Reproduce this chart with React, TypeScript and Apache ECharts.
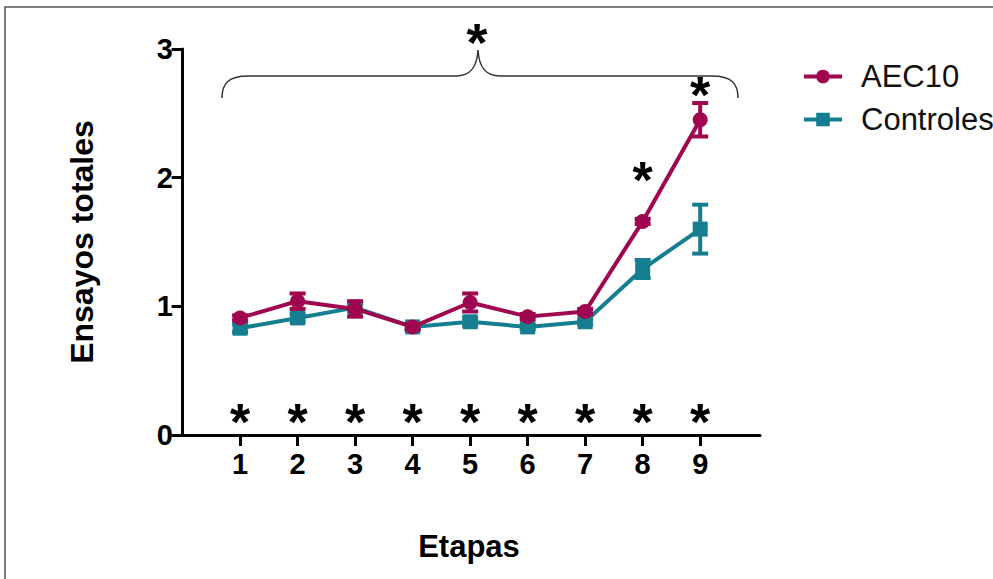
import React, { useEffect, useRef } from "react";
import * as echarts from "echarts";

const etapas = [1, 2, 3, 4, 5, 6, 7, 8, 9];
const aec10 = [0.91, 1.04, 0.98, 0.84, 1.03, 0.92, 0.96, 1.66, 2.45];
const aec10Err = [0.02, 0.06, 0.06, 0.02, 0.07, 0.02, 0.02, 0.02, 0.13];
const controles = [0.83, 0.91, 0.99, 0.84, 0.88, 0.84, 0.88, 1.29, 1.6];
const controlesErr = [0.03, 0.03, 0.03, 0.02, 0.03, 0.02, 0.02, 0.07, 0.19];
const yTicks = [0, 1, 2, 3];
const starLevel = 0.15;
const pointStars = [
  [8, 2.03],
  [9, 2.69],
];

const MAGENTA = "#A0064F";
const TEAL = "#157F91";
const FONT = "'Liberation Sans', Arial, Helvetica, sans-serif";
const STAR_SIZE = 52;

echarts.graphic.registerShape(
  "brace",
  echarts.graphic.extendPath(
    "M222,98 C222,84 228,76 248,76 L456,76 C470,76 477,68 478,50 C479,68 486,76 500,76 L712,76 C732,76 738,84 738,98",
    {}
  )
);

function errorSeries(name: string, vals: number[], errs: number[], color: string, z: number) {
  return {
    name,
    type: "custom",
    z,
    silent: true,
    data: etapas.map((e, i) => [e, vals[i], errs[i]]),
    encode: { x: 0, y: 1 },
    renderItem: (_params: any, api: any) => {
      const x = api.value(0);
      const y = api.value(1);
      const e = api.value(2);
      const top = api.coord([x, y + e]);
      const bot = api.coord([x, y - e]);
      const hw = 8;
      const st = { stroke: color, lineWidth: 4 };
      return {
        type: "group",
        children: [
          { type: "line", shape: { x1: top[0], y1: top[1], x2: bot[0], y2: bot[1] }, style: st },
          { type: "line", shape: { x1: top[0] - hw, y1: top[1], x2: top[0] + hw, y2: top[1] }, style: st },
          { type: "line", shape: { x1: bot[0] - hw, y1: bot[1], x2: bot[0] + hw, y2: bot[1] }, style: st },
        ],
      };
    },
  };
}

export default function App() {
  const ref = useRef<HTMLDivElement>(null);
  useEffect(() => {
    if (!ref.current) return;
    const chart = echarts.init(ref.current, undefined, { renderer: "svg" });
    const option: any = {
      animation: false,
      backgroundColor: "#ffffff",
      textStyle: { fontFamily: FONT },
      grid: { left: 178, right: 233, top: 49, bottom: 144, containLabel: false },
      legend: {
        data: ["AEC10", "Controles"],
        orient: "vertical",
        left: 797,
        top: 56,
        itemWidth: 38,
        itemHeight: 17,
        itemGap: 12,
        lineStyle: { width: 4 },
        textStyle: { fontSize: 31, color: "#111", fontFamily: FONT, padding: [0, 0, 0, 14] },
        selectedMode: false,
      },
      xAxis: {
        type: "value",
        min: -0.08,
        max: 10.04,
        name: "Etapas",
        nameLocation: "middle",
        nameGap: 96,
        nameTextStyle: { fontSize: 31, fontWeight: "bold", color: "#000", fontFamily: FONT, verticalAlign: "top" },
        splitLine: { show: false },
        axisLine: { show: true, lineStyle: { color: "#000", width: 3 } },
        axisTick: { show: true, length: 11, customValues: etapas, lineStyle: { color: "#000", width: 3 } },
        axisLabel: {
          customValues: etapas,
          fontSize: 29,
          fontWeight: "bold",
          color: "#000",
          margin: 14,
          fontFamily: FONT,
        },
      },
      yAxis: {
        type: "value",
        min: 0,
        max: 3,
        interval: 1,
        name: "Ensayos totales",
        nameLocation: "middle",
        nameGap: 80,
        nameRotate: 90,
        nameTextStyle: { fontSize: 32, fontWeight: "bold", color: "#000", fontFamily: FONT },
        splitLine: { show: false },
        axisLine: { show: true, lineStyle: { color: "#000", width: 3 } },
        axisTick: { show: true, length: 11, customValues: yTicks, lineStyle: { color: "#000", width: 3 } },
        axisLabel: {
          customValues: yTicks,
          fontSize: 29,
          fontWeight: "bold",
          color: "#000",
          margin: 5,
          fontFamily: FONT,
        },
      },
      graphic: [
        {
          type: "rect",
          shape: { x: 5, y: 7, width: 1000, height: 600 },
          style: { fill: "none", stroke: "#555", lineWidth: 1.5 },
          silent: true,
          z: -10,
        },
        {
          type: "brace",
          x: 0,
          y: 0,
          style: { fill: "none", stroke: "#333", lineWidth: 1.5 },
          silent: true,
        },
        {
          type: "text",
          x: 477,
          y: 42,
          style: {
            text: "*",
            fontSize: 54,
            fontWeight: "bold",
            fill: "#000",
            fontFamily: FONT,
            textAlign: "center",
            textVerticalAlign: "middle",
          },
          silent: true,
        },
      ],
      series: [
        {
          name: "Controles",
          type: "line",
          data: etapas.map((e, i) => [e, controles[i]]),
          symbol: "rect",
          symbolSize: 15,
          z: 2,
          lineStyle: { color: TEAL, width: 4 },
          itemStyle: { color: TEAL },
        },
        errorSeries("Controles", controles, controlesErr, TEAL, 2),
        {
          name: "AEC10",
          type: "line",
          data: etapas.map((e, i) => [e, aec10[i]]),
          symbol: "circle",
          symbolSize: 15,
          z: 3,
          lineStyle: { color: MAGENTA, width: 4 },
          itemStyle: { color: MAGENTA },
        },
        errorSeries("AEC10", aec10, aec10Err, MAGENTA, 3),
        {
          name: "sig",
          type: "custom",
          silent: true,
          z: 5,
          data: [...etapas.map((e) => [e, starLevel]), ...pointStars],
          encode: { x: 0, y: 1 },
          renderItem: (_params: any, api: any) => {
            const p = api.coord([api.value(0), api.value(1)]);
            return {
              type: "text",
              x: p[0],
              y: p[1] + 6,
              style: {
                text: "*",
                fontSize: STAR_SIZE,
                fontWeight: "bold",
                fill: "#000",
                fontFamily: FONT,
                textAlign: "center",
                textVerticalAlign: "middle",
              },
            };
          },
        },
      ],
    };
    chart.setOption(option);
    return () => chart.dispose();
  }, []);
  return (
    <div
      ref={ref}
      style={{ position: "fixed", left: 0, top: 0, width: 993, height: 579, background: "#fff" }}
    />
  );
}
